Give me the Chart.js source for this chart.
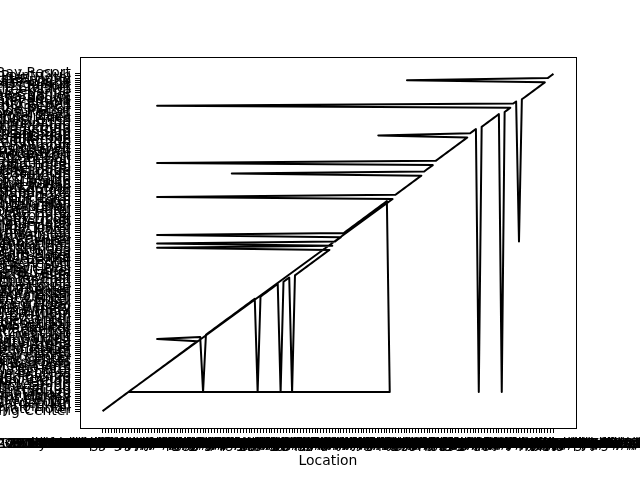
<!DOCTYPE html>
<html><head><meta charset="utf-8">
<script src="https://cdn.jsdelivr.net/npm/chart.js@4"></script>
<style>html,body{margin:0;padding:0;background:#fff}canvas{display:block}</style>
</head><body>
<canvas id="c" width="640" height="480"></canvas>
<script>
const locations = ["350 Fifth Ave, New York, NY","6801 Hollywood Blvd, Los Angeles, CA","233 S Wacker Dr, Chicago, IL","1001 Avenida De Las Americas, Houston, TX","201 E Washington St, Phoenix, AZ","1101 Arch St, Philadelphia, PA","300 Alamo Plaza, San Antonio, TX","111 W Harbor Dr, San Diego, CA","650 S Griffin St, Dallas, TX","150 W San Carlos St, San Jose, CA",
"500 E Cesar Chavez St, Austin, TX","1000 Water St, Jacksonville, FL","1201 Houston St, Fort Worth, TX","400 N High St, Columbus, OH","501 S College St, Charlotte, NC","100 S Capitol Ave, Indianapolis, IN","705 Pike St, Seattle, WA","700 14th St, Denver, CO","801 Mount Vernon Pl NW, Washington, DC","415 Summer St, Boston, MA",
"1 Civic Center Plaza, El Paso, TX","201 5th Ave S, Nashville, TN","1 Washington Blvd, Detroit, MI","100 Mick Cornett Dr, Oklahoma City, OK","777 NE Martin Luther King Jr Blvd, Portland, OR","3150 Paradise Rd, Las Vegas, NV","255 N Main St, Memphis, TN","221 S 4th St, Louisville, KY","1 W Pratt St, Baltimore, MD","400 W Wisconsin Ave, Milwaukee, WI",
"401 2nd St NW, Albuquerque, NM","260 S Church Ave, Tucson, AZ","848 M St, Fresno, CA","1400 J St, Sacramento, CA","263 N Center St, Mesa, AZ","301 W 13th St, Kansas City, MO","285 Andrew Young Intl Blvd, Atlanta, GA","455 N 10th St, Omaha, NE","1 Lake Ave, Colorado Springs, CO","500 S Salisbury St, Raleigh, NC",
"300 E Ocean Blvd, Long Beach, CA","1000 19th St, Virginia Beach, VA","1901 Convention Center Dr, Miami, FL","550 10th St, Oakland, CA","1301 2nd Ave S, Minneapolis, MN","100 Civic Center, Tulsa, OK","1001 Truxtun Ave, Bakersfield, CA","225 W Douglas Ave, Wichita, KS","1200 Ballpark Way, Arlington, TX","15151 E Alameda Pkwy, Aurora, CO",
"333 S Franklin St, Tampa, FL","900 Convention Center Blvd, New Orleans, LA","300 Lakeside Ave E, Cleveland, OH","1801 Kalakaua Ave, Honolulu, HI","800 W Katella Ave, Anaheim, CA","430 W Vine St, Lexington, KY","445 W Weber Ave, Stockton, CA","1901 N Shoreline Blvd, Corpus Christi, TX","200 S Water St, Henderson, NV","3637 5th St, Riverside, CA",
"1 Center St, Newark, NJ","175 W Kellogg Blvd, Saint Paul, MN","201 E 4th St, Santa Ana, CA","525 Elm St, Cincinnati, OH","1 Civic Center Plaza, Irvine, CA","9800 International Dr, Orlando, FL","1000 Fort Duquesne Blvd, Pittsburgh, PA","701 Convention Plaza, St. Louis, MO","1921 W Gate City Blvd, Greensboro, NC","280 Grove St, Jersey City, NJ",
"555 W 5th Ave, Anchorage, AK","400 Pinnacle Arena Dr, Lincoln, NE","2000 E Spring Creek Pkwy, Plano, TX","301 W Morgan St, Durham, NC","153 Franklin St, Buffalo, NY","3 S Arizona Ave, Chandler, AZ","276 4th Ave, Chula Vista, CA","401 Jefferson Ave, Toledo, OH","1 John Nolen Dr, Madison, WI","50 E Civic Center Dr, Gilbert, AZ",
"4590 S Virginia St, Reno, NV","1 Summit Sq, Fort Wayne, IN","2250 Las Vegas Blvd N, North Las Vegas, NV","1 4th St N, St. Petersburg, FL","1501 Mac Davis Ln, Lubbock, TX","500 W Las Colinas Blvd, Irving, TX","1110 Houston St, Laredo, TX","301 W 5th St, Winston-Salem, NC","1000 Greenbrier Pkwy, Chesapeake, VA","5850 W Glendale Ave, Glendale, AZ",
"200 N 5th St, Garland, TX","7380 E 2nd St, Scottsdale, AZ","235 E Main St, Norfolk, VA","850 W Front St, Boise, ID","3300 Capitol Ave, Fremont, CA","334 W Spokane Falls Blvd, Spokane, WA","23920 Valencia Blvd, Santa Clarita, CA","191 Lafayette St, Baton Rouge, LA","403 N 3rd St, Richmond, VA","501 Palm Ave, Hialeah, FL",
"290 N D St, San Bernardino, CA","1500 Commerce St, Tacoma, WA","1000 L St, Modesto, CA","700 Monroe St SW, Huntsville, AL","400 Locust St, Des Moines, IA","40 S Broadway, Yonkers, NY","123 E Main St, Rochester, NY","14177 Frederick St, Moreno Valley, CA","1960 Coliseum Dr, Fayetteville, NC","8353 Sierra Ave, Fontana, CA",
"801 Front Ave, Columbus, GA","50 Foster St, Worcester, MA","121 SW Port St Lucie Blvd, Port St. Lucie, FL","426 W Markham St, Little Rock, AR","601 Broad St, Augusta, GA","800 Hobson Way, Oxnard, CA","2100 Richard Arrington Jr Blvd N, Birmingham, AL","201 Tallapoosa St, Montgomery, AL","6101 Frisco Square Blvd, Frisco, TX","401 S Buchanan St, Amarillo, TX",
"100 S West Temple, Salt Lake City, UT","303 Monroe Ave NW, Grand Rapids, MI","2000 Main St, Huntington Beach, CA","6000 College Blvd, Overland Park, KS","613 E Broadway, Glendale, CA","505 W Pensacola St, Tallahassee, FL","1700 Avenue H E, Grand Prairie, TX","222 N Tennessee St, McKinney, TX","1015 Cultural Park Blvd, Cape Coral, FL","1201 N West Ave, Sioux Falls, SD",
"8401 W Monroe St, Peoria, AZ","1 Sabin St, Providence, RI","415 W 6th St, Vancouver, WA","701 Henley St, Knoxville, TN","166 S High St, Akron, OH","400 Caddo St, Shreveport, LA","1 S Water St, Mobile, AL","1001 E Elizabeth St, Brownsville, TX","2400 Washington Ave, Newport News, VA","1950 Eisenhower Blvd, Fort Lauderdale, FL",
"1150 Carter St, Chattanooga, TN","31 E 5th St, Tempe, AZ","44 E Downer Pl, Aurora, IL","100 Santa Rosa Ave, Santa Rosa, CA","1 Eugene Center, Eugene, OR","8401 Laguna Palms Way, Elk Grove, CA","555 Liberty St SE, Salem, OR","2000 E Convention Center Way, Ontario, CA","316 N Academy St, Cary, NC","10500 Civic Center Dr, Rancho Cucamonga, CA",
"300 N Coast Hwy, Oceanside, CA","44933 Fern Ave, Lancaster, CA","11222 Acacia Pkwy, Garden Grove, CA","601 City Center Way, Pembroke Pines, FL","300 Laporte Ave, Fort Collins, CO","38300 Sierra Hwy, Palmdale, CA","830 Boonville Ave, Springfield, MO","1 Public Square, Clarksville, TN"];

const venues = ["Westfield Shopping Center","Grand Hyatt Hotel","Riverside Convention Hall","Hilton Garden Inn","Marriott Downtown","Lakeview Conference Center","Harbor Point Marina","Central Library","City Hall Plaza","Memorial Stadium",
"Oak Ridge Country Club","Sheraton Grand","Maple Leaf Inn","Pine Valley Lodge","Union Station","Civic Auditorium","Silver Creek Casino","Blue Ridge Pavilion","Holiday Inn Express","Crown Plaza Hotel",
"Museum of Fine Arts","Veterans Memorial Park","Regency Ballroom","Hampton Inn & Suites","Greenwood Community Center","Sunrise Medical Center","Four Seasons Hotel","Embassy Suites","Heritage Museum","Riverfront Amphitheater",
"Cedar Point Lodge","University Arena","Westin Hotel","Palm Springs Villa","Botanical Garden","Courtyard by Marriott","Eagle Creek Golf Club","The Ritz-Carlton","Hyatt Regency","Lincoln Center",
"Mountain View Retreat","Radisson Blu","Bayfront Exhibition Hall","Liberty Science Center","DoubleTree by Hilton","Seaside Pavilion","Crystal Ballroom","Fairmont Hotel","Willow Creek Winery","Downtown Art Gallery",
"Omni Hotel","Northside Sports Complex","Renaissance Hotel","Summit Event Center","Lakeshore Inn","InterContinental","Aloft Hotel","Grand Theater","Red Rock Canyon Lodge","Historic Opera House",
"La Quinta Inn","Wyndham Garden","Convention Center East","Sunset Park Pavilion","Kimpton Hotel","Science Museum","Marina Del Rey Hotel","Best Western Plus","Highland Park Hall","Westgate Resort",
"Loews Hotel","Ocean Breeze Inn","Majestic Theatre","Royal Palm Hotel","Town Square Plaza","Canyon Ranch Spa","Hotel Monaco","County Fairgrounds","Grand Central Hall","Waterfront Hotel",
"Expo Center","Pier 39 Pavilion","Sonesta Suites","Rosewood Mansion","Boardwalk Inn","Mission Bay Hotel","Skyline Tower","Gaylord Opryland","Magnolia Hotel","Golden Gate Club",
"Arts District Loft","Peabody Hotel","Hotel Del Coronado","Graduate Hotel","Thompson Hotel","Brookside Manor","Chateau Elan","Pioneer Square Hall","Orchard Hill Farm","Capitol Hill Hotel",
"Meadowbrook Barn","Parkside Terrace","Adolphus Hotel","Sea Island Club","The Broadmoor","Vineyard Estate","Harborview Hall","Stonebridge Ranch","Belmont Mansion","Fox Theatre",
"Hotel Indigo","Grove Park Inn","Cityview Ballroom","Woodland Hills Lodge","The Drake Hotel","Coral Gables Club","Seaport Hotel","Lakeside Chapel","The Jefferson","Canal Street Hall",
"Desert Springs Resort","Harvest Moon Barn","Park Hyatt","Sagebrush Ranch","The Roosevelt","Bellagio Ballroom","Hotel Vintage","Falcon Ridge Club","The Biltmore","Hudson Yards Hall",
"Magnolia Plantation","The Langham","Emerald Bay Club","Waldorf Astoria","Starlight Ballroom","The Cosmopolitan","Prairie Wind Lodge","Ashford Castle Inn","Whispering Pines","Hotel Zaza",
"The Mansion on Main","Blue Lagoon Resort","Cliffside Manor","The Grand America","Moonlight Garden","Silverado Resort","Hotel Emma","Wildflower Meadows","Rancho Bernardo Inn","The Chanler",
"Glass House Venue","Turtle Creek Club","The Cloister","Laguna Cliffs Resort","Hotel Figueroa","Mountain Lake Lodge","The Inn at Rancho","Coastal Dunes Hotel","Pelican Point Club","Sunset Bay Resort"];

// each row of the table: index into locations (x) and venues (y)
const rowLocation = [0,1,2,3,4,5,6,7,8,9,10,11,12,13,14,15,16,17,18,19,20,21,22,23,24,25,26,27,28,29,30,31,32,33,
19,34,35,36,37,38,39,40,41,42,43,44,45,46,47,48,49,50,51,52,53,
54,55,56,57,58,59,60,61,62,63,64,65,66,67,68,69,70,71,72,73,74,75,76,77,78,79,
19,80,19,81,82,83,19,84,85,86,87,88,89,90,91,92,93,94,95,96,97,98,99,
100,9,101,19,102,103,104,105,106,107,108,109,110,111,45,112,113,114,115,19,
116,117,118,119,120,121,122,123,124,125,126,127,96,128,129,130,131,132,133,134,135,136,137,138,139,
140,141,142,19,143,144,145,146,147,148,149,150,151,152,153,154,106,155,156,157];

const rowVenue = [0,1,2,3,4,5,6,7,8,9,10,11,12,13,14,15,16,17,18,19,20,21,22,23,24,25,26,27,28,29,30,31,32,33,
34,35,9,36,37,38,39,40,41,42,43,44,45,46,47,48,49,50,51,52,53,
9,54,55,56,57,58,59,60,9,61,62,63,9,64,65,66,67,68,69,70,71,72,73,74,75,76,
77,78,79,80,81,82,83,84,85,86,87,88,89,90,91,92,93,94,95,96,97,98,99,
9,9,100,101,102,103,104,105,106,107,108,109,110,111,112,113,114,115,116,117,
118,119,120,121,122,123,124,125,126,127,128,129,130,131,132,133,9,134,135,136,137,138,139,140,9,
141,142,143,144,145,146,80,147,148,149,150,151,152,153,154,155,156,157,158,159];

const xTitle = "Location";

const points = rowLocation.map((li, k) => ({x: li, y: rowVenue[k]}));
const FONT = {family: "'DejaVu Sans', sans-serif", size: 13.9};

const framePlugin = {
  id: 'frame',
  afterDraw(chart) {
    const {ctx, chartArea: a} = chart;
    ctx.save();
    ctx.strokeStyle = '#000';
    ctx.lineWidth = 1;
    ctx.strokeRect(Math.round(a.left) + 0.5, Math.round(a.top) + 0.5, Math.round(a.right - a.left), Math.round(a.bottom - a.top));
    ctx.restore();
  }
};

new Chart(document.getElementById('c'), {
  type: 'line',
  data: {datasets: [{data: points, borderColor: '#000', borderWidth: 2, pointRadius: 0, tension: 0, fill: false, borderJoinStyle: 'round'}]},
  options: {
    responsive: false, animation: false, devicePixelRatio: 1,
    layout: {padding: {top: 57, right: 64, left: 0, bottom: 0}},
    plugins: {legend: {display: false}, tooltip: {enabled: false}},
    scales: {
      x: {
        type: 'linear', bounds: 'data',
        min: -0.05 * (locations.length - 1), max: 1.05 * (locations.length - 1),
        afterBuildTicks: s => { s.ticks = locations.map((_, i) => ({value: i})); },
        afterFit: s => { s.height = 52; s.paddingLeft = 0; s.paddingRight = 0; },
        ticks: {autoSkip: false, maxTicksLimit: 1000, sampleSize: 1000, maxRotation: 0, minRotation: 0, color: '#000', font: FONT, padding: 3,
                callback: (v, i) => locations[i]},
        grid: {display: true, drawOnChartArea: false, drawTicks: true, tickLength: 5, tickColor: '#000', tickWidth: 1},
        border: {display: false},
        title: {display: true, text: xTitle, color: '#000', font: FONT, padding: {top: 0, bottom: 10}}
      },
      y: {
        type: 'linear', bounds: 'data',
        min: -0.05 * (venues.length - 1), max: 1.05 * (venues.length - 1),
        afterBuildTicks: s => { s.ticks = venues.map((_, i) => ({value: i})); },
        afterFit: s => { s.width = 80; s.paddingTop = 0; s.paddingBottom = 0; },
        ticks: {autoSkip: false, maxTicksLimit: 1000, sampleSize: 1000, color: '#000', font: FONT, padding: 4,
                callback: (v, i) => venues[i]},
        grid: {display: true, drawOnChartArea: false, drawTicks: true, tickLength: 5, tickColor: '#000', tickWidth: 1},
        border: {display: false}
      }
    }
  },
  plugins: [framePlugin]
});
</script>
</body></html>
